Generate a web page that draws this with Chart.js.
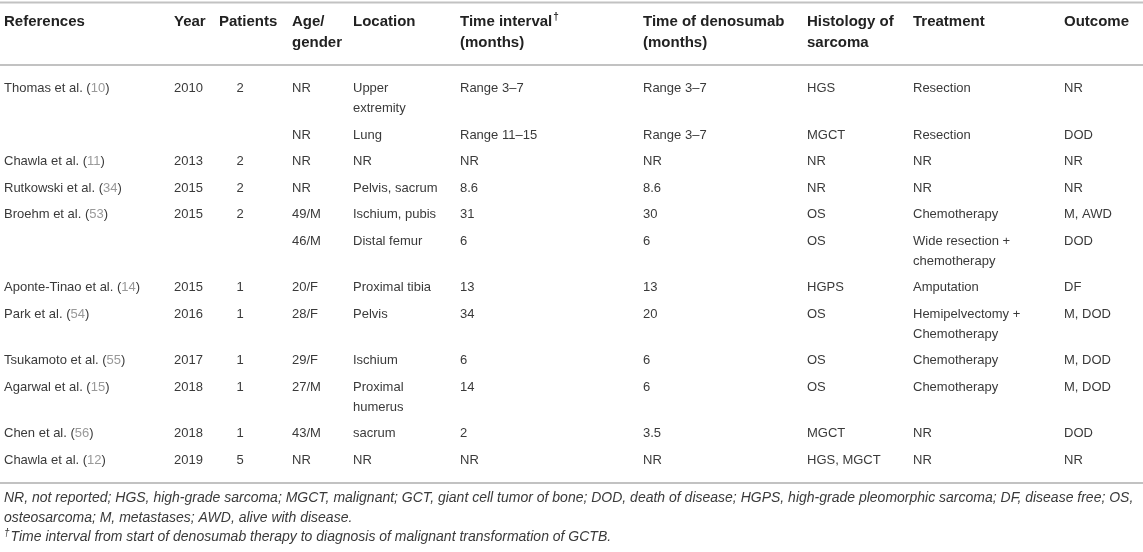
<!DOCTYPE html>
<html>
<head>
<meta charset="utf-8">
<script src="https://cdn.jsdelivr.net/npm/chart.js@4.4.1/dist/chart.umd.min.js"></script>
<style>
  html, body { margin: 0; padding: 0; background: #ffffff; }
  #wrap { width: 1143px; height: 552px; }
</style>
</head>
<body>
<div id="wrap"><canvas id="table-chart"></canvas></div>
<script>
/* Table data */
const headers = [
    ["References"], ["Year"], ["Patients"], ["Age/", "gender"], ["Location"],
    ["Time interval†", "(months)"], ["Time of denosumab", "(months)"],
    ["Histology of", "sarcoma"], ["Treatment"], ["Outcome"]
]

const studyAuthors = ["Thomas et al.", "Chawla et al.", "Rutkowski et al.", "Broehm et al.", "Aponte-Tinao et al.",
    "Park et al.", "Tsukamoto et al.", "Agarwal et al.", "Chen et al.", "Chawla et al."]
const studyRefs = ["10", "11", "34", "53", "14", "54", "55", "15", "56", "12"]
const studyYears = ["2010", "2013", "2015", "2015", "2015", "2016", "2017", "2018", "2018", "2019"]
const studyPatients = ["2", "2", "2", "2", "1", "1", "1", "1", "1", "5"]

// one entry per case, caseStudy says which study it belongs to
const caseStudy = [0, 0, 1, 2, 3, 3, 4, 5, 6, 7, 8, 9]
const ages = ["NR", "NR", "NR", "NR", "49/M", "46/M", "20/F", "28/F", "29/F", "27/M", "43/M", "NR"]
const locations = ["Upper extremity", "Lung", "NR", "Pelvis, sacrum", "Ischium, pubis", "Distal femur",
    "Proximal tibia", "Pelvis", "Ischium", "Proximal humerus", "sacrum", "NR"]
const intervals = ["Range 3–7", "Range 11–15", "NR", "8.6", "31", "6", "13", "34", "6", "14", "2", "NR"]
const denosumab = ["Range 3–7", "Range 3–7", "NR", "8.6", "30", "6", "13", "20", "6", "6", "3.5", "NR"]
const histology = ["HGS", "MGCT", "NR", "NR", "OS", "OS", "HGPS", "OS", "OS", "OS", "MGCT", "HGS, MGCT"]
const treatments = ["Resection", "Resection", "NR", "NR", "Chemotherapy", "Wide resection + chemotherapy",
    "Amputation", "Hemipelvectomy + Chemotherapy", "Chemotherapy", "Chemotherapy", "NR", "NR"]
const outcomes = ["NR", "DOD", "NR", "NR", "M, AWD", "DOD", "DF", "M, DOD", "M, DOD", "M, DOD", "DOD", "NR"]

const footnotes = [
    "NR, not reported; HGS, high-grade sarcoma; MGCT, malignant; GCT, giant cell tumor of bone; DOD, death of disease; HGPS, high-grade pleomorphic sarcoma; DF, disease free; OS,",
    "osteosarcoma; M, metastases; AWD, alive with disease.",
    "Time interval from start of denosumab therapy to diagnosis of malignant transformation of GCTB."
]

/* Layout (canvas units) */
const W = 1143, H = 552
const colLeft = [4, 174, 219, 292, 353, 460, 643, 807, 913, 1064]
const colWrap = [999, 999, 999, 999, 88, 999, 999, 999, 115, 999]
const patientsCenter = 240
const headerLineY = [22, 43]
const ruleY = [2.5, 65, 483]
const bodyTop = 88.5
const rowPitch = 26.5
const linePitch = 20
const footY = [498, 518, 537]

const bodyFont = "13px 'Liberation Sans', Arial, Helvetica, sans-serif"
const boldFont = "bold 15px 'Liberation Sans', Arial, Helvetica, sans-serif"
const footFont = "italic 14px 'Liberation Sans', Arial, Helvetica, sans-serif"
const textColor = "#3a3a3a"
const refColor = "#999999"

const measureCtx = document.createElement("canvas").getContext("2d")

function wrapText (text, maxWidth) {
    measureCtx.font = bodyFont
    const words = text.split(" ")
    const lines = []
    let current = ""
    for (const word of words) {
        const trial = current ? current + " " + word : word
        if (current && measureCtx.measureText(trial).width > maxWidth) {
            lines.push(current)
            current = word
        } else {
            current = trial
        }
    }
    lines.push(current)
    return lines
}

/* Build the text cells as points */
const cellPoints = []
const caseColumns = [ages, locations, intervals, denosumab, histology, treatments, outcomes]

headers.forEach((lines, c) => {
    lines.forEach((line, i) => {
        cellPoints.push({ x: colLeft[c], y: headerLineY[i], text: line, kind: "head" })
    })
})

let y = bodyTop
caseStudy.forEach((s, k) => {
    const first = k === 0 || caseStudy[k - 1] !== s
    if (first) {
        cellPoints.push({ x: colLeft[0], y: y, text: studyAuthors[s], ref: studyRefs[s], kind: "ref" })
        cellPoints.push({ x: colLeft[1], y: y, text: studyYears[s], kind: "body" })
        cellPoints.push({ x: patientsCenter, y: y, text: studyPatients[s], kind: "center" })
    }
    let maxLines = 1
    caseColumns.forEach((col, j) => {
        const c = j + 3
        const lines = wrapText(col[k], colWrap[c])
        maxLines = Math.max(maxLines, lines.length)
        lines.forEach((line, i) => {
            cellPoints.push({ x: colLeft[c], y: y + i * linePitch, text: line, kind: "body" })
        })
    })
    y += rowPitch + (maxLines - 1) * linePitch
})

footnotes.forEach((line, i) => {
    cellPoints.push({ x: colLeft[0], y: footY[i], text: line, kind: "foot", dagger: i === 2 })
})

const ruleSets = ruleY.map((ry) => ({
    type: "line",
    data: [{ x: 0, y: ry }, { x: W, y: ry }],
    borderColor: "#c2c2c2",
    borderWidth: 2,
    pointRadius: 0
}))

/* Plugin drawing the text of every cell at its scaled position */
const cellTextPlugin = {
    id: "cellText",
    afterDatasetsDraw (chart) {
        const ctx = chart.ctx
        const xs = chart.scales.x
        const ys = chart.scales.y
        ctx.save()
        ctx.textBaseline = "middle"
        for (const p of cellPoints) {
            const px = xs.getPixelForValue(p.x)
            const py = ys.getPixelForValue(p.y)
            ctx.textAlign = "left"
            if (p.kind === "head") {
                ctx.font = boldFont
                ctx.fillStyle = "#222222"
                if (p.text.endsWith("†")) {
                    const base = p.text.slice(0, -1)
                    ctx.fillText(base, px, py)
                    const w = ctx.measureText(base).width
                    ctx.font = "bold 10px 'Liberation Sans', Arial, sans-serif"
                    ctx.fillText("†", px + w + 1, py - 5)
                } else {
                    ctx.fillText(p.text, px, py)
                }
            } else if (p.kind === "ref") {
                ctx.font = bodyFont
                let cx = px
                const parts = [[p.text + " (", textColor], [p.ref, refColor], [")", textColor]]
                for (const [t, color] of parts) {
                    ctx.fillStyle = color
                    ctx.fillText(t, cx, py)
                    cx += ctx.measureText(t).width
                }
            } else if (p.kind === "center") {
                ctx.font = bodyFont
                ctx.fillStyle = textColor
                ctx.textAlign = "center"
                ctx.fillText(p.text, px, py)
            } else if (p.kind === "foot") {
                ctx.font = footFont
                ctx.fillStyle = textColor
                let cx = px
                if (p.dagger) {
                    ctx.font = "italic 10px 'Liberation Sans', Arial, sans-serif"
                    ctx.fillText("†", cx, py - 4)
                    cx += ctx.measureText("†").width + 1
                    ctx.font = footFont
                }
                ctx.fillText(p.text, cx, py)
            } else {
                ctx.font = bodyFont
                ctx.fillStyle = textColor
                ctx.fillText(p.text, px, py)
            }
        }
        ctx.restore()
    }
}

new Chart(document.querySelector("#table-chart"), {
    type: "scatter",
    data: {
        datasets: [
            ...ruleSets,
            { type: "scatter", data: cellPoints, pointRadius: 0, pointHoverRadius: 0 }
        ]
    },
    options: {
        responsive: true,
        maintainAspectRatio: false,
        animation: false,
        events: [],
        layout: { padding: 0 },
        plugins: { legend: { display: false }, tooltip: { enabled: false } },
        scales: {
            x: { type: "linear", min: 0, max: W, display: false },
            y: { type: "linear", min: 0, max: H, reverse: true, display: false }
        }
    },
    plugins: [cellTextPlugin]
})
</script>
</body>
</html>
